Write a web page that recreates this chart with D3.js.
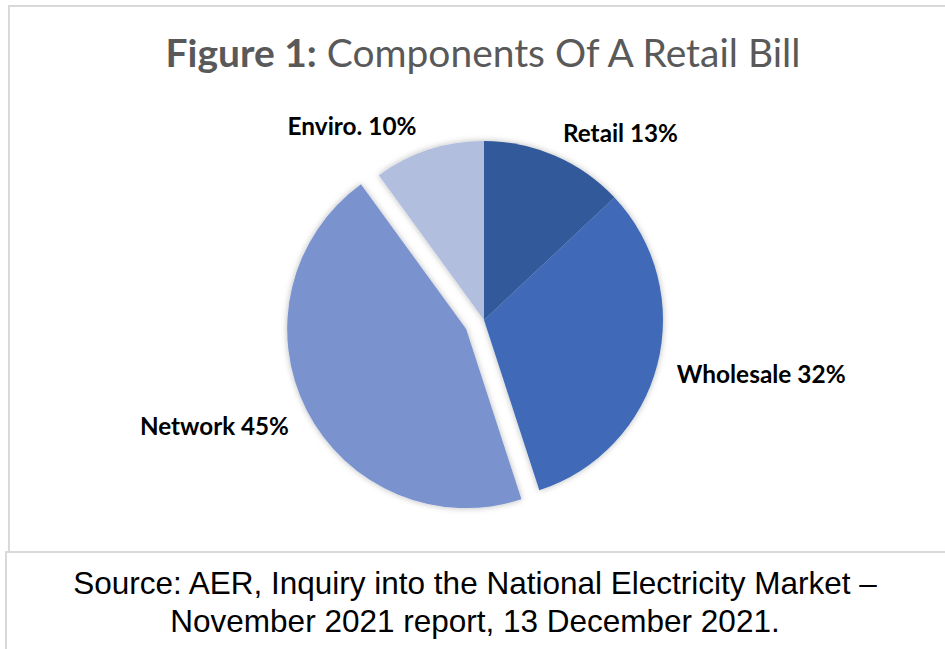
<!DOCTYPE html>
<html>
<head>
<meta charset="utf-8">
<script src="https://cdn.jsdelivr.net/npm/d3@7"></script>
<style>
  body { margin: 0; background: #fff; }
  svg { display: block; }
</style>
</head>
<body>
<div id="chart"></div>
<script>
'use strict';

// chart data
const categories = ['Retail', 'Wholesale', 'Network', 'Enviro.'];
const shares = [13, 32, 45, 10];
const exploded = ['Network'];
const palette = ['#335a9a', '#3f6bb8', '#7a93cf', '#b1bede'];

const svgWidth = 945, svgHeight = 649;
const svg = d3.select('#chart').append('svg')
  .attr('width', svgWidth)
  .attr('height', svgHeight);

// frame lines
const frame = svg.append('g').attr('stroke', '#d9d9d9').attr('stroke-width', 2);
frame.append('line').attr('x1', 8).attr('y1', 6).attr('x2', svgWidth).attr('y2', 6);
frame.append('line').attr('x1', 9).attr('y1', 6).attr('x2', 9).attr('y2', 552);
frame.append('line').attr('x1', 5).attr('y1', 552).attr('x2', svgWidth).attr('y2', 552);
frame.append('line').attr('x1', 6).attr('y1', 552).attr('x2', 6).attr('y2', svgHeight);

// fit a text element to a target width
function fitWidth(sel, target) {
  const node = sel.node();
  const size = parseFloat(sel.attr('font-size'));
  const w = node.getComputedTextLength();
  sel.attr('font-size', size * target / w);
}

// title
const title = svg.append('text')
  .attr('x', 483).attr('y', 67)
  .attr('text-anchor', 'middle')
  .attr('font-family', 'Lato, "Open Sans", sans-serif')
  .attr('font-size', 36)
  .attr('fill', '#595959');
title.append('tspan').attr('font-weight', 'bold').text('Figure 1:');
title.append('tspan').text(' Components Of A Retail Bill');
fitWidth(title, 635);

// shadow
const defs = svg.append('defs');
defs.append('filter').attr('id', 'soft-shadow')
  .attr('x', '-20%').attr('y', '-20%').attr('width', '140%').attr('height', '140%')
  .append('feDropShadow')
    .attr('dx', 0).attr('dy', 0).attr('stdDeviation', 3)
    .attr('flood-color', '#000').attr('flood-opacity', 0.28);

// pie
const cx = 484, cy = 320, radius = 179, explodeBy = 20;
const color = d3.scaleOrdinal().domain(categories).range(palette);
const pie = d3.pie().sort(null).value(d => d.value);
const arc = d3.arc().innerRadius(0).outerRadius(radius);
const labelArc = d3.arc().innerRadius(radius + 20).outerRadius(radius + 20);

const data = categories.map((c, i) => ({ name: c, value: shares[i] }));
const arcs = pie(data);

const midAngle = d => (d.startAngle + d.endAngle) / 2;

function offset(d) {
  if (!exploded.includes(d.data.name)) return [0, 0];
  const a = midAngle(d);
  return [Math.sin(a) * explodeBy, -Math.cos(a) * explodeBy];
}

const pieGroup = svg.append('g')
  .attr('transform', `translate(${cx}, ${cy})`);

pieGroup.append('g').attr('filter', 'url(#soft-shadow)')
  .selectAll('path')
  .data(arcs)
  .enter()
  .append('path')
    .attr('d', arc)
    .attr('transform', d => `translate(${offset(d)[0]}, ${offset(d)[1]})`)
    .attr('fill', d => color(d.data.name));

// labels
const labelWidths = { 'Retail': 115, 'Wholesale': 169, 'Network': 149, 'Enviro.': 129 };
pieGroup.selectAll('text.lbl')
  .data(arcs)
  .enter()
  .append('text')
    .attr('class', 'lbl')
    .attr('transform', d => {
      const p = labelArc.centroid(d);
      const o = offset(d);
      const nudge = d.data.name === 'Enviro.' ? -6 : 0;
      return `translate(${p[0] + o[0] + nudge}, ${p[1] + o[1]})`;
    })
    .attr('text-anchor', d => midAngle(d) < Math.PI ? 'start' : 'end')
    .attr('dy', d => 12 - 8 * Math.cos(midAngle(d)))
    .attr('font-family', 'Lato, "Open Sans", sans-serif')
    .attr('font-weight', 'bold')
    .attr('font-size', 20)
    .attr('fill', '#000')
    .text(d => `${d.data.name} ${d.data.value}%`)
    .each(function (d) { fitWidth(d3.select(this), labelWidths[d.data.name]); });

// source note
const source = svg.append('text')
  .attr('text-anchor', 'middle')
  .attr('font-family', '"Liberation Sans", Arial, sans-serif')
  .attr('font-size', 31.5)
  .attr('fill', '#000');
source.append('tspan').attr('x', 475).attr('y', 594)
  .text('Source: AER, Inquiry into the National Electricity Market –');
source.append('tspan').attr('x', 475).attr('y', 632)
  .text('November 2021 report, 13 December 2021.');
</script>
</body>
</html>
